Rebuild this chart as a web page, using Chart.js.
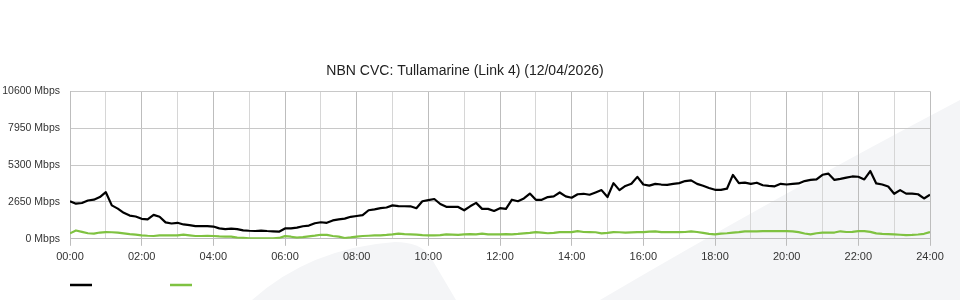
<!DOCTYPE html>
<html><head><meta charset="utf-8">
<script src="https://cdn.jsdelivr.net/npm/chart.js@4"></script>
<style>html,body{margin:0;padding:0;background:#fff}#wrap{width:960px;height:300px;position:relative}</style>
</head><body><div id="wrap"><canvas id="c"></canvas></div>
<script>
const chartTitle = "NBN CVC: Tullamarine (Link 4) (12/04/2026)";
const yUnit = "Mbps";
const yTickValues = [0, 2650, 5300, 7950, 10600];
const xTickLabels = ["00:00","02:00","04:00","06:00","08:00","10:00","12:00","14:00","16:00","18:00","20:00","22:00","24:00"];
// sample times, every 10 minutes from 00:00 to 24:00 (minutes)
const sampleMinutes = [];
for (let m = 0; m <= 1440; m += 10) sampleMinutes.push(m);

const seriesBlack = [
  2690, 2525, 2575, 2750, 2810, 3000, 3350, 2400, 2170, 1865, 1670, 1600,
  1435, 1400, 1720, 1580, 1180, 1100, 1150, 1030, 980, 910, 910, 910,
  880, 750, 700, 725, 700, 610, 580, 560, 590, 560, 540, 510,
  745, 745, 800, 900, 950, 1120, 1190, 1150, 1320, 1400, 1450, 1580,
  1640, 1695, 2050, 2120, 2200, 2250, 2400, 2350, 2340, 2335, 2200, 2700,
  2780, 2860, 2500, 2300, 2290, 2290, 2050, 2335, 2580, 2150, 2150, 2000,
  2200, 2150, 2810, 2700, 2900, 3250, 2800, 2800, 3000, 3050, 3330, 3050,
  2950, 3200, 3235, 3165, 3330, 3500, 3000, 4000, 3500, 3800, 3950, 4450,
  3900, 3820, 3950, 3900, 3880, 3950, 4000, 4150, 4200, 3950, 3810, 3650,
  3520, 3520, 3600, 4590, 4000, 4040, 3950, 4030, 3850, 3805, 3770, 3950,
  3900, 3950, 3980, 4150, 4230, 4270, 4600, 4680, 4230, 4305, 4400, 4480,
  4460, 4270, 4870, 3980, 3900, 3760, 3235, 3500, 3250, 3250, 3200, 2900,
  3165
];
const seriesGreen = [
  390, 600, 500, 400, 370, 450, 480, 470, 450, 390, 330, 300,
  250, 220, 200, 250, 240, 240, 250, 300, 250, 200, 200, 210,
  200, 170, 160, 150, 90, 70, 40, 35, 35, 35, 40, 60,
  190, 150, 85, 120, 180, 230, 290, 280, 200, 155, 50, 100,
  160, 200, 220, 240, 250, 280, 320, 370, 340, 320, 300, 260,
  250, 250, 260, 320, 300, 280, 320, 330, 320, 370, 320, 320,
  320, 330, 320, 350, 390, 420, 480, 450, 400, 420, 480, 490,
  485, 550, 490, 485, 470, 390, 420, 480, 470, 440, 460, 485,
  485, 520, 540, 485, 485, 490, 485, 490, 530, 490, 420, 350,
  320, 370, 400, 440, 480, 540, 530, 540, 555, 555, 560, 555,
  550, 540, 480, 380, 320, 400, 440, 440, 450, 540, 490, 500,
  550, 555, 500, 390, 360, 340, 320, 290, 260, 280, 310, 360,
  485
];

const FONT = "'Liberation Sans', Arial, Helvetica, sans-serif";
Chart.defaults.font.family = FONT;

const watermark = {
  id: 'watermark',
  beforeDraw(chart) {
    const ctx = chart.ctx;
    ctx.save();
    ctx.fillStyle = '#f4f5f7';
    ctx.beginPath();
    ctx.moveTo(600, 300);
    ctx.quadraticCurveTo(770, 200, 960, 100);
    ctx.lineTo(960, 300);
    ctx.closePath();
    ctx.fill();
    ctx.beginPath();
    ctx.moveTo(252, 300);
    ctx.quadraticCurveTo(310, 248, 395, 242);
    ctx.quadraticCurveTo(420, 242, 430, 256);
    ctx.lineTo(456, 300);
    ctx.closePath();
    ctx.fill();
    ctx.restore();
  }
};

const lineLegend = {
  id: 'lineLegend',
  afterDraw(chart) {
    const ctx = chart.ctx;
    const left = chart.chartArea.left;
    ctx.save();
    chart.data.datasets.forEach((ds, i) => {
      ctx.strokeStyle = ds.borderColor;
      ctx.lineWidth = 2.5;
      ctx.beginPath();
      const x0 = left + i * 100;
      ctx.moveTo(x0, 285);
      ctx.lineTo(x0 + 22, 285);
      ctx.stroke();
    });
    ctx.restore();
  }
};

new Chart(document.getElementById('c'), {
  type: 'line',
  data: {
    datasets: [
      { label: '', data: sampleMinutes.map((m, i) => ({x: m, y: seriesBlack[i]})),
        borderColor: '#000000', backgroundColor: '#000000', borderWidth: 2.2, pointRadius: 0, tension: 0, borderJoinStyle: 'round' },
      { label: '', data: sampleMinutes.map((m, i) => ({x: m, y: seriesGreen[i]})),
        borderColor: '#7fc241', backgroundColor: '#7fc241', borderWidth: 2.2, pointRadius: 0, tension: 0, borderJoinStyle: 'round' }
    ]
  },
  options: {
    responsive: true, maintainAspectRatio: false, animation: false, devicePixelRatio: 1,
    layout: { padding: { top: 56.5, bottom: 31, left: 0, right: 30 } },
    plugins: {
      legend: { display: false },
      tooltip: { enabled: false },
      title: { display: true, text: chartTitle, color: '#222', font: { size: 14, weight: 'normal', family: FONT }, padding: { top: 6, bottom: 12 } }
    },
    scales: {
      x: {
        type: 'linear', min: 0, max: 1440,
        ticks: { stepSize: 60, autoSkip: false, maxRotation: 0, color: '#333', font: { size: 11 }, padding: 5,
          callback: v => (v % 120 === 0 ? xTickLabels[v / 120] : '') },
        grid: { tickLength: 7,
          color: c => (c.tick && c.tick.value % 120 === 0 ? '#bdbdbd' : '#d6d6d6'),
          tickColor: c => (c.tick && c.tick.value % 120 === 0 ? '#bdbdbd' : 'rgba(0,0,0,0)') },
        border: { color: '#bdbdbd' }
      },
      y: {
        min: 0, max: 10600,
        afterBuildTicks: s => { s.ticks = yTickValues.map(v => ({ value: v })); },
        afterFit: s => { s.width = 70; },
        ticks: { color: '#333', font: { size: 10.5 }, padding: 10, callback: v => v + ' ' + yUnit },
        grid: { drawTicks: false, color: '#c8c8c8' },
        border: { color: '#bdbdbd' }
      }
    }
  },
  plugins: [watermark, lineLegend]
});
</script>
</body></html>
